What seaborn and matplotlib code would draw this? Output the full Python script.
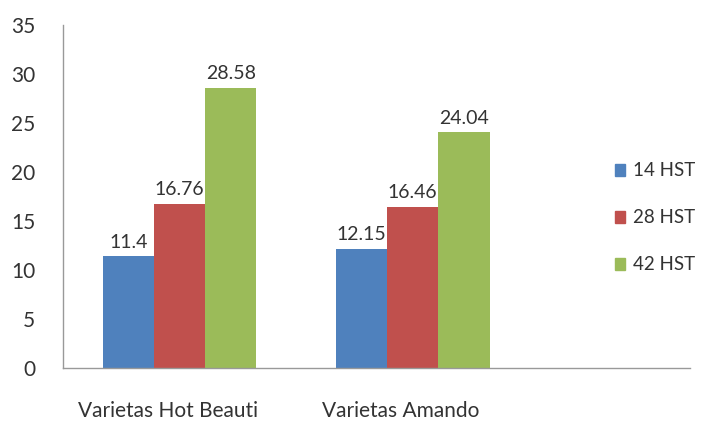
import pandas as pd
import matplotlib
matplotlib.use("Agg")
import matplotlib.pyplot as plt
import matplotlib.transforms as mtransforms
import seaborn as sns

# datos del grafico
variedades = ["Varietas Hot Beauti", "Varietas Amando"]
series = ["14 HST", "28 HST", "42 HST"]
valores_14 = [11.4, 12.15]
valores_28 = [16.76, 16.46]
valores_42 = [28.58, 24.04]
colores = ["#4F81BD", "#C0504D", "#9BBB59"]

df = pd.DataFrame({
    "variedad": variedades * 3,
    "serie": [s for s in series for _ in variedades],
    "valor": valores_14 + valores_28 + valores_42,
})

sns.set_style("white")
plt.rcParams["font.family"] = ["Lato", "DejaVu Sans"]

fig = plt.figure(figsize=(7.06, 4.21), dpi=100)
ax = fig.add_axes([63 / 706, 53 / 421, (690 - 63) / 706, (368 - 25) / 421])

sns.barplot(data=df, x="variedad", y="valor", hue="serie", palette=colores,
            width=0.66, saturation=1, linewidth=0, ax=ax, legend=False)

for cont in ax.containers:
    ax.bar_label(cont, fmt="%g", padding=4, fontsize=14, color="#333333")

ax.set_ylim(0, 35)
ax.set_yticks(range(0, 36, 5))
ax.set_xlim(-0.5, 2.19)
ax.set_xlabel("")
ax.set_ylabel("")
ax.tick_params(axis="both", length=0, labelsize=15, colors="#333333")
ax.tick_params(axis="x", pad=24)
ax.tick_params(axis="y", pad=20)

# etiquetas de categoria un poco a la izquierda, como en Excel
desplazar = mtransforms.ScaledTranslation(-12 / 100, 0, fig.dpi_scale_trans)
for lbl in ax.get_xticklabels():
    lbl.set_transform(lbl.get_transform() + desplazar)

for lado in ["top", "right"]:
    ax.spines[lado].set_visible(False)
for lado in ["left", "bottom"]:
    ax.spines[lado].set_color("#999999")
    ax.spines[lado].set_linewidth(1)

handles = [plt.Rectangle((0, 0), 1, 1, color=c) for c in colores]
fig.legend(handles, series, loc="center left", bbox_to_anchor=(598 / 706, 1 - 218 / 421),
           frameon=False, fontsize=13.5, handlelength=0.55, handleheight=0.55,
           handletextpad=0.4, labelspacing=1.6, labelcolor="#333333")

fig.savefig("out.png", dpi=100)
